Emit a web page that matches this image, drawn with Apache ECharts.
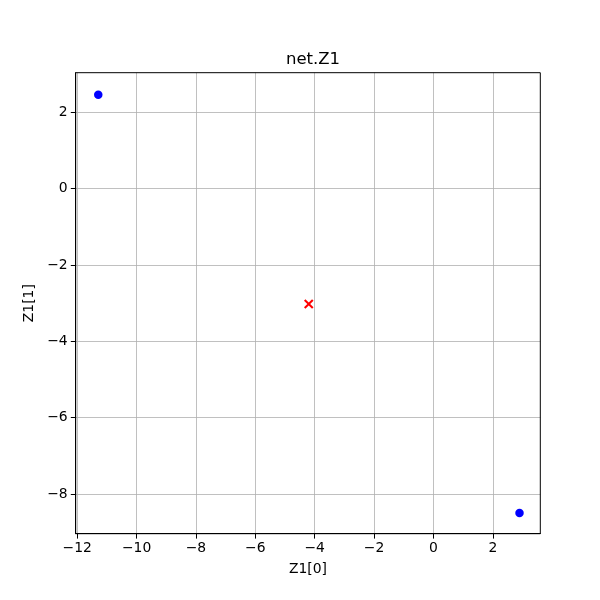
<!DOCTYPE html>
<html>
<head>
<meta charset="utf-8">
<script src="https://cdn.jsdelivr.net/npm/echarts@6/dist/echarts.min.js"></script>
<style>html,body{margin:0;padding:0;background:#fff}#c{width:600px;height:600px}</style>
</head>
<body>
<div id="c"></div>
<script>
const titleText = 'net.Z1';
const xName = 'Z1[0]';
const yName = 'Z1[1]';
const blueX = [-11.29, 2.90];
const blueY = [2.46, -8.50];
const redX = [-4.20];
const redY = [-3.02];
const xRange = [-12.05, 3.60];
const yRange = [-9.04, 3.04];

const font = 'DejaVu Sans';
const fmt = v => String(v).replace('-', '\u2212');
const chart = echarts.init(document.getElementById('c'), null, {renderer: 'canvas'});
const xMark = 'path://M0,1.5 L1.5,0 L5,3.5 L8.5,0 L10,1.5 L6.5,5 L10,8.5 L8.5,10 L5,6.5 L1.5,10 L0,8.5 L3.5,5 Z';

chart.setOption({
  animation: false,
  backgroundColor: '#fff',
  title: {
    text: titleText, left: 308, top: 46, textAlign: 'center',
    textStyle: {fontFamily: font, fontSize: 16.5, fontWeight: 'normal', color: '#000'}
  },
  grid: {left: 75.7, top: 72.7, right: 59.7, bottom: 66.3, show: true, borderColor: '#000', borderWidth: 1, z: 5, containLabel: false},
  xAxis: {
    type: 'value', min: xRange[0], max: xRange[1], minInterval: 2, maxInterval: 2, splitNumber: 8,
    name: xName, nameLocation: 'middle', nameGap: 29,
    nameTextStyle: {fontFamily: font, fontSize: 13.9, color: '#000'},
    axisLine: {show: true, onZero: false, lineStyle: {color: '#000', width: 1}},
    axisTick: {show: true, inside: false, length: 4.9, lineStyle: {color: '#000', width: 1}},
    axisLabel: {fontFamily: font, fontSize: 13.9, color: '#000', margin: 8, showMinLabel: false, showMaxLabel: false, formatter: fmt},
    splitLine: {show: true, showMinLine: false, showMaxLine: false, lineStyle: {color: '#b0b0b0', width: 0.8}}
  },
  yAxis: {
    type: 'value', min: yRange[0], max: yRange[1], minInterval: 2, maxInterval: 2, splitNumber: 8,
    name: yName, nameLocation: 'middle', nameGap: 37, nameRotate: 90,
    nameTextStyle: {fontFamily: font, fontSize: 13.9, color: '#000'},
    axisLine: {show: true, onZero: false, lineStyle: {color: '#000', width: 1}},
    axisTick: {show: true, inside: false, length: 4.9, lineStyle: {color: '#000', width: 1}},
    axisLabel: {fontFamily: font, fontSize: 13.9, color: '#000', margin: 8, showMinLabel: false, showMaxLabel: false, formatter: fmt},
    splitLine: {show: true, showMinLine: false, showMaxLine: false, lineStyle: {color: '#b0b0b0', width: 0.8}}
  },
  series: [
    {
      type: 'scatter', data: blueX.map((x, i) => [x, blueY[i]]),
      symbol: 'circle', symbolSize: 8.5, itemStyle: {color: '#0000ff', opacity: 1}, z: 3
    },
    {
      type: 'scatter', data: redX.map((x, i) => [x, redY[i]]),
      symbol: xMark, symbolSize: 9.5, itemStyle: {color: '#ff0000', opacity: 1}, z: 4
    }
  ]
});
</script>
</body>
</html>
